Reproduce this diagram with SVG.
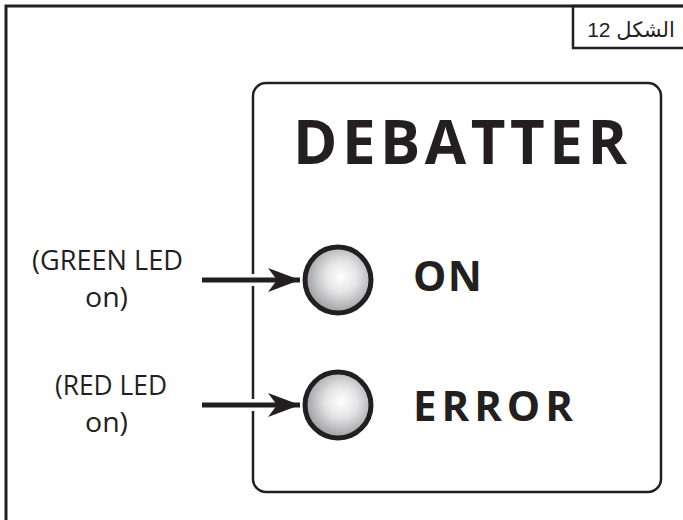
<svg xmlns="http://www.w3.org/2000/svg" width="683" height="520" viewBox="0 0 683 520">
<style>
.ln{fill:none;stroke:#231f20}
.lbl{font-family:"Open Sans","Liberation Sans",sans-serif;font-size:27px;fill:#231f20}
.big{font-family:"Open Sans","Liberation Sans",sans-serif;font-weight:bold;fill:#231f20}
.led{fill:url(#g);stroke:#231f20;stroke-width:5}
</style>
<defs>
<radialGradient id="g" cx="0.55" cy="0.45" r="0.6">
<stop offset="0" stop-color="#ffffff"/>
<stop offset="0.4" stop-color="#e4e4e5"/>
<stop offset="1" stop-color="#939497"/>
</radialGradient>
<marker id="ah" viewBox="0 0 32 24" refX="32" refY="12" markerWidth="32" markerHeight="24" markerUnits="userSpaceOnUse" orient="auto">
<path d="M0,0 L32,12 L0,24 L9,12 Z" fill="#231f20"/>
</marker>
</defs>
<rect width="683" height="520" fill="#ffffff"/>
<g id="frame">
<rect class="ln" x="6" y="6" width="720" height="560" stroke-width="3"/>
</g>
<g id="figure-label">
<rect class="ln" x="573" y="6" width="130" height="42" stroke-width="2.5"/>
<text x="631" y="37" direction="rtl" text-anchor="middle" font-family="'Liberation Sans','DejaVu Sans',sans-serif" font-size="21" fill="#231f20">الشكل 12</text>
</g>
<g id="panel">
<rect class="ln" x="253" y="83" width="408" height="409" rx="13" stroke-width="2.5"/>
<text class="big" x="293" y="164" font-size="60" textLength="334" lengthAdjust="spacing">DEBATTER</text>
</g>
<g id="led-on">
<circle class="led" cx="338" cy="280" r="33"/>
<text class="big" x="413" y="291" font-size="42" textLength="69" lengthAdjust="spacing">ON</text>
</g>
<g id="led-error">
<circle class="led" cx="338" cy="405" r="33"/>
<text class="big" x="413" y="421" font-size="42" textLength="160" lengthAdjust="spacing">ERROR</text>
</g>
<g id="label-green">
<text class="lbl" x="32" y="270" textLength="151" lengthAdjust="spacingAndGlyphs">(GREEN LED</text>
<text class="lbl" x="85" y="307" textLength="43" lengthAdjust="spacingAndGlyphs">on)</text>
</g>
<g id="label-red">
<text class="lbl" x="55" y="395" textLength="112" lengthAdjust="spacingAndGlyphs">(RED LED</text>
<text class="lbl" x="85" y="432" textLength="43" lengthAdjust="spacingAndGlyphs">on)</text>
</g>
<g id="connectors">
<line x1="244" y1="280" x2="262" y2="280" stroke="#ffffff" stroke-width="12"/>
<line x1="244" y1="405" x2="262" y2="405" stroke="#ffffff" stroke-width="12"/>
<line x1="202" y1="280" x2="300" y2="280" stroke="#231f20" stroke-width="5" marker-end="url(#ah)"/>
<line x1="202" y1="405" x2="300" y2="405" stroke="#231f20" stroke-width="5" marker-end="url(#ah)"/>
</g>
</svg>
